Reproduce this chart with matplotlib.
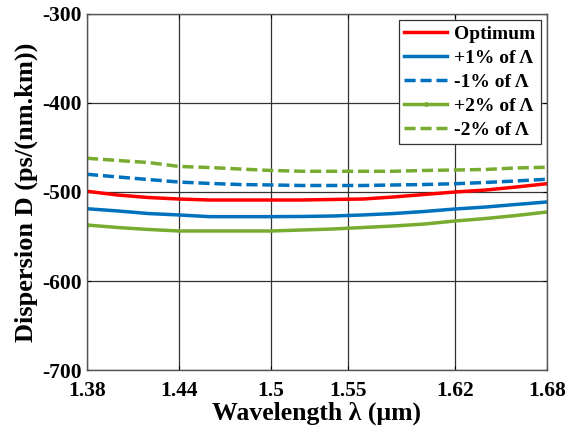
import matplotlib
matplotlib.use("Agg")
import matplotlib.pyplot as plt
import numpy as np

wavelength = [1.38, 1.40, 1.42, 1.44, 1.46, 1.48, 1.50, 1.52, 1.54, 1.56, 1.58, 1.60, 1.62, 1.64, 1.66, 1.68]
optimum = [-499.2, -503.4, -506.2, -507.9, -509.0, -509.0, -509.0, -509.0, -508.4, -507.9, -505.6, -502.8, -500.0, -497.8, -494.4, -490.7]
plus1 = [-518.8, -521.3, -524.2, -525.8, -527.7, -527.7, -527.7, -527.5, -527.0, -525.8, -524.2, -521.9, -519.1, -516.9, -514.0, -511.2]
minus1 = [-480.1, -483.1, -486.0, -488.8, -490.4, -491.6, -492.1, -492.7, -492.7, -492.7, -492.1, -491.6, -490.7, -489.3, -487.6, -485.7]
plus2 = [-537.1, -539.9, -542.1, -543.8, -543.8, -543.8, -543.8, -542.7, -541.6, -539.9, -538.2, -536.0, -532.6, -529.8, -526.4, -522.5]
minus2 = [-462.1, -464.6, -466.9, -471.3, -472.5, -474.2, -475.8, -476.7, -476.7, -476.7, -476.7, -475.8, -475.3, -474.7, -473.0, -472.2]

xticks = [1.38, 1.44, 1.5, 1.55, 1.62, 1.68]
xticklabels = ["1.38", "1.44", "1.5", "1.55", "1.62", "1.68"]
yticks = [-700, -600, -500, -400, -300]
yticklabels = ["-700", "-600", "-500", "-400", "-300"]

plt.rcParams['font.family'] = ['Liberation Serif', 'DejaVu Serif']
plt.rcParams['font.weight'] = 'bold'

fig = plt.figure(figsize=(5.77, 4.30), dpi=100)
ax = fig.add_axes([0.1508, 0.1395, 0.797, 0.828])

red = '#FF0000'
blue = '#0072BD'
green = '#77AC30'
lw = 2.5
dash = (3.2, 1.4)

ax.plot(wavelength, optimum, color=red, lw=lw, label='Optimum')
ax.plot(wavelength, plus1, color=blue, lw=lw, label='+1% of Λ')
ax.plot(wavelength, minus1, color=blue, lw=lw, ls=(0, dash), label='-1% of Λ')
ax.plot(wavelength, plus2, color=green, lw=lw, marker='.', markersize=5, markevery=[0], label='+2% of Λ')
ax.plot(wavelength, minus2, color=green, lw=lw, ls=(0, dash), label='-2% of Λ')

ax.set_xlim(1.38, 1.68)
ax.set_ylim(-700, -300)
ax.set_xticks(xticks)
ax.set_xticklabels(xticklabels)
ax.set_yticks(yticks)
ax.set_yticklabels(yticklabels)
ax.tick_params(direction='in', length=3, labelsize=15.5, top=True, right=True)
ax.tick_params(axis='x', pad=8)
ax.tick_params(axis='y', pad=4)
for lab in ax.get_xticklabels() + ax.get_yticklabels():
    lab.set_fontweight('bold')
ax.grid(True, color='#333333', lw=0.9, ls='-')
for s in ax.spines.values():
    s.set_color('#555555')
    s.set_linewidth(1.0)

ax.set_xlabel('Wavelength λ (μm)', fontsize=18.5, fontweight='bold', labelpad=0)
ax.set_ylabel('Dispersion D (ps/(nm.km))', fontsize=19, fontweight='bold', labelpad=3)

leg = ax.legend(loc='upper right', fontsize=14, frameon=True, fancybox=False,
                edgecolor='#333333', framealpha=1, borderaxespad=0.3,
                handlelength=2.2, handletextpad=0.35, labelspacing=0.32, borderpad=0.3)
leg.get_frame().set_linewidth(0.9)
for t in leg.get_texts():
    t.set_fontweight('bold')

fig.savefig('out.png', dpi=100)
